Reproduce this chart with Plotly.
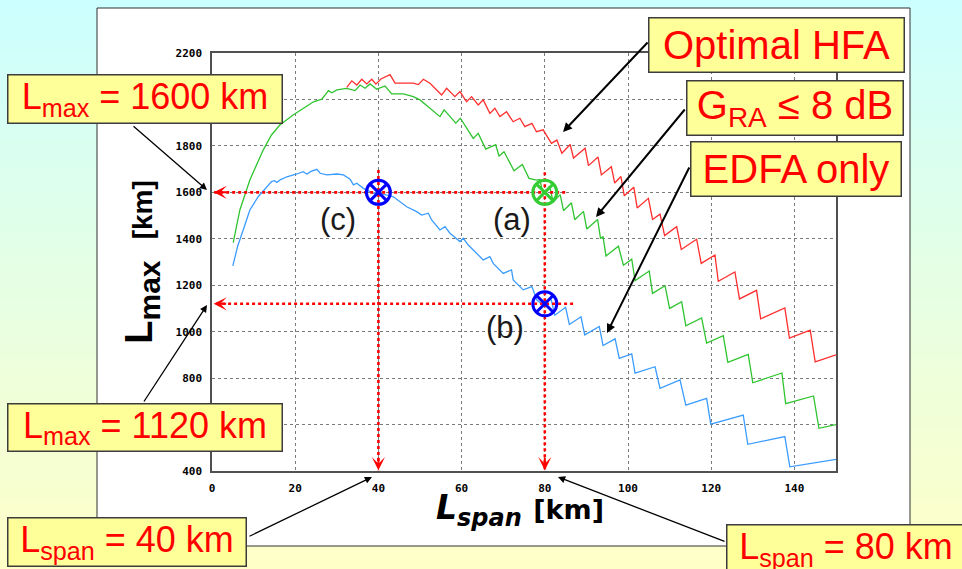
import plotly.graph_objects as go

# ---------------- data ----------------
blue_x = [5, 6.2, 7.5, 9.1, 11.1, 13.1, 14.3, 15.0, 15.6, 16.5, 18.0, 20.4, 21.9, 22.8, 23.8, 25.2, 26.0, 27.6,
          30.0, 31.6, 33.2, 34.0, 34.8, 36.4, 38.8, 40.0, 43.6, 46.8, 49.2, 50.4, 52.0, 52.8, 54.8, 56.0, 57.2,
          59.6, 60.4, 61.6, 65.2, 66.8, 67.6, 70.0, 72.0, 72.4, 74.8, 76.9, 78.1, 79.6, 81.5, 82.4, 85.0, 85.9,
          88.7, 89.6, 93.1, 94.0, 96.9, 97.9, 100.9, 101.7, 106.5, 107.7, 112.5, 113.9, 118.9, 119.9, 127.7,
          128.8, 137.7, 138.9, 150.0]
blue_y = [1283, 1370, 1438, 1524, 1581, 1624, 1646, 1650, 1643, 1655, 1667, 1679, 1689, 1679, 1690, 1699, 1682, 1675,
          1679, 1675, 1656, 1632, 1639, 1617, 1596, 1598, 1581, 1538, 1517, 1502, 1510, 1481, 1438, 1452, 1424,
          1388, 1402, 1373, 1309, 1323, 1294, 1251, 1266, 1223, 1180, 1194, 1136, 1114, 1141, 1071, 1105, 1031,
          1064, 986, 1022, 940, 969, 885, 904, 821, 849, 756, 792, 684, 713, 602, 641,
          515, 548, 418, 450]

green_x = [5.1, 6.7, 9.1, 12.3, 14.3, 16.3, 19.5, 21.9, 24.4, 26.4, 28.0, 28.8, 30.0, 32.4, 34.4, 35.6, 36.8, 38.0,
           39.6, 41.6, 43.2, 46.0, 48.4, 50.0, 52.4, 54.8, 55.8, 58.6, 59.7, 62.8, 64.0, 65.8, 68.2, 69.0, 70.2,
           72.6, 74.6, 76.2, 78.0, 78.8, 79.6, 81.2, 82.0, 83.7, 84.5, 86.4, 87.2, 89.3, 90.1, 92.7, 93.4, 94.0,
           94.7, 97.7, 98.9, 100.9, 101.7, 105.1, 105.9, 108.9, 110.0, 112.9, 113.9, 117.7, 118.9, 122.9, 124.0,
           128.9, 130.0, 137.0, 137.9, 144.6, 145.9, 150.0]
green_y = [1383, 1524, 1653, 1782, 1847, 1890, 1933, 1962, 1990, 2001, 2038, 2029, 2041, 2048, 2038, 2062, 2048, 2067,
           2044, 2058, 2024, 2024, 2012, 1998, 1962, 1926, 1955, 1898, 1919, 1832, 1854, 1786, 1805, 1756, 1775,
           1693, 1720, 1660, 1653, 1655, 1592, 1624, 1558, 1590, 1521, 1555, 1482, 1518, 1442, 1483, 1401, 1410,
           1326, 1368, 1286, 1312, 1220, 1261, 1165, 1198, 1100, 1129, 1025, 1059, 951, 983, 868,
           902, 780, 822, 690, 723, 584, 600]

red_x = [32.4, 33.6, 34.8, 36.0, 37.2, 38.4, 39.4, 40.6, 42.8, 44.0, 48.4, 49.6, 50.8, 52.4, 55.2, 56.4, 58.4, 59.6,
         61.2, 62.4, 64.0, 65.2, 66.8, 68.0, 69.2, 70.8, 72.4, 74.0, 75.2, 76.9, 78.0, 79.6, 81.6, 82.9, 84.1, 86.1,
         86.9, 89.7, 90.5, 92.8, 93.6, 96.0, 96.8, 98.3, 99.1, 101.4, 102.2, 104.9, 105.9, 107.7, 108.8, 111.7,
         112.8, 116.5, 117.6, 120.9, 121.7, 125.7, 126.8, 130.9, 131.9, 137.7, 138.8, 143.8, 145.0, 150.0]
red_y = [2052, 2080, 2062, 2087, 2067, 2087, 2066, 2088, 2107, 2070, 2070, 2064, 2087, 2070, 2019, 2048, 2012, 2034,
         1990, 2012, 1976, 1998, 1940, 1962, 1926, 1947, 1904, 1919, 1883, 1897, 1861, 1869, 1811, 1825, 1768, 1806,
         1748, 1790, 1715, 1752, 1675, 1710, 1640, 1668, 1585, 1622, 1533, 1574, 1483, 1506, 1414, 1452,
         1354, 1398, 1294, 1330, 1217, 1257, 1141, 1178, 1055, 1102, 972, 1007, 870, 900]

point_x = [40, 80, 80]
point_y = [1600, 1600, 1120]
point_labels = ["(c)", "(a)", "(b)"]
label_x = [30.3, 72.1, 70.4]
label_y = [1485, 1481, 1016]

guide_lmax = [1600, 1120]
guide_lmax_from = [84.9, 86.8]
guide_lspan = [40, 80]
guide_lspan_from = [1696, 1686]

x_ticks = [0, 20, 40, 60, 80, 100, 120, 140]
x_tick_text = ["0", "20", "40", "60", "80", "100", "120", "140"]
y_ticks = [400, 600, 800, 1000, 1200, 1400, 1600, 1800, 2000, 2200]
y_tick_text = ["400", "", "800", "1000", "1200", "1400", "1600", "1800", "", "2200"]  # 600/2000 hidden by call-outs

# ---------------- layout geometry ----------------
W, H = 962, 569
ML, MR, MT, MB = 212, 126, 53, 98
PW, PH = W - ML - MR, H - MT - MB


def px(x):
    return (x - ML) / PW


def py(y):
    return (H - MB - y) / PH


fig = go.Figure()

line_w = 1.3
fig.add_trace(go.Scatter(x=blue_x, y=blue_y, mode="lines", line=dict(color="#3b9cff", width=line_w),
                         name="EDFA only", hoverinfo="skip"))
fig.add_trace(go.Scatter(x=green_x, y=green_y, mode="lines", line=dict(color="#2fc42f", width=line_w),
                         name="G_RA <= 8 dB", hoverinfo="skip"))
fig.add_trace(go.Scatter(x=red_x, y=red_y, mode="lines", line=dict(color="#ff2e2e", width=line_w),
                         name="Optimal HFA", hoverinfo="skip"))

# red dotted guides
for v, x0 in zip(guide_lmax, guide_lmax_from):
    fig.add_trace(go.Scatter(x=[x0, 0.4], y=[v, v], mode="lines",
                             line=dict(color="#ff0000", width=2.6, dash="dot"), hoverinfo="skip"))
for v, y0 in zip(guide_lspan, guide_lspan_from):
    fig.add_trace(go.Scatter(x=[v, v], y=[y0, 403], mode="lines",
                             line=dict(color="#ff0000", width=2.6, dash="dot"), hoverinfo="skip"))

fig.add_trace(go.Scatter(x=point_x, y=point_y, mode="markers",
                         marker=dict(symbol="circle-x-open", size=24,
                                     color=["#0000ff", "#33cc33", "#0000ff"], line=dict(width=3)),
                         hoverinfo="skip"))

shapes = []
nb = 57
for i in range(nb):
    y0 = i * H / nb
    y1 = (i + 1) * H / nb
    t = (i + 0.5) / nb
    r = int(round(204 + (255 - 204) * t))
    b = int(round(255 + (200 - 255) * t))
    shapes.append(dict(type="rect", xref="paper", yref="paper", x0=px(-2), x1=px(W + 2),
                       y0=py(y1 + 0.6), y1=py(y0 - 0.6), fillcolor=f"rgb({r},255,{b})",
                       line=dict(width=0), layer="below"))
shapes.append(dict(type="rect", xref="paper", yref="paper", x0=px(97), x1=px(910), y0=py(546), y1=py(8),
                   fillcolor="white", line=dict(color="#303030", width=1), layer="below"))

ann = []
# red arrow heads
for v in guide_lmax:
    ann.append(dict(x=0.4, y=v, xref="x", yref="y", ax=14, ay=0, text="", showarrow=True,
                    arrowhead=3, arrowsize=1.1, arrowwidth=2, arrowcolor="#ff0000"))
for v in guide_lspan:
    ann.append(dict(x=v, y=403, xref="x", yref="y", ax=0, ay=-14, text="", showarrow=True,
                    arrowhead=3, arrowsize=1.1, arrowwidth=2, arrowcolor="#ff0000"))

# point labels
for t, lx, ly in zip(point_labels, label_x, label_y):
    ann.append(dict(x=lx, y=ly, xref="x", yref="y", text=t, showarrow=False,
                    font=dict(family="Liberation Sans", size=31, color="#1a1a1a")))

# black pointer arrows (tip px, tail px)
arrows = [((563, 132), (649, 41), 2.0), ((596, 217), (686, 108), 2.0), ((607, 333), (690, 166), 2.0),
          ((207, 190), (132, 125), 1.3), ((207, 305), (143, 403), 1.3), ((372, 477), (248, 537), 1.3),
          ((558, 477), (726, 542), 1.3)]
for (tx, ty), (sx, sy), w in arrows:
    ann.append(dict(x=px(tx), y=py(ty), xref="paper", yref="paper", ax=sx - tx, ay=sy - ty, text="",
                    showarrow=True, arrowhead=2, arrowsize=1.1 if w < 1.5 else 0.9, arrowwidth=w,
                    arrowcolor="#000000"))

# x-axis title (placed as text so it sits exactly where the reference has it)
ann.append(dict(x=px(520), y=py(510), xref="paper", yref="paper", xanchor="center", yanchor="middle",
                showarrow=False,
                text='<b><i>L<sub><span style="font-size:24px">span</span></sub></i>'
                     '\u00a0<span style="font-size:27px">[km]</span></b>',
                font=dict(family="DejaVu Sans", size=33, color="#000000")))

# yellow call-out boxes: (text, cx, cy, w, h, size)
boxes = [("Optimal HFA", 776.5, 45, 257, 56, 40),
         ("G<sub>RA</sub> \u2264 8 dB", 795, 108, 218, 56, 40),
         ("EDFA only", 796, 169, 212, 56, 40),
         ("L<sub>max</sub> = 1600 km", 145, 99, 276, 50, 36),
         ("L<sub>max</sub> = 1120 km", 145, 427.5, 276, 49, 36),
         ("L<sub>span</sub> = 40 km", 127, 542, 240, 50, 36),
         ("L<sub>span</sub> = 80 km", 846, 549, 240, 50, 36)]
for t, cx, cy, w, h, s in boxes:
    ann.append(dict(x=px(cx), y=py(cy), xref="paper", yref="paper", xanchor="center", yanchor="middle",
                    text=t, showarrow=False, bgcolor="#ffff99", bordercolor="#3c3c3c", borderwidth=1.5,
                    borderpad=0, width=w - 3, height=h - 3,
                    font=dict(family="Liberation Sans", size=s, color="#ff0000")))

tickfont = dict(family="DejaVu Sans Mono", size=11, color="#000000", weight="bold")
axis_common = dict(showgrid=True, gridcolor="#7a7a7a", griddash="dot", gridwidth=1, showline=True,
                   linecolor="#505050", linewidth=1.5, mirror=True, ticks="", zeroline=False,
                   tickfont=tickfont, ticklabelstandoff=6)

fig.update_layout(
    width=W, height=H, margin=dict(l=ML, r=MR, t=MT, b=MB, autoexpand=False),
    paper_bgcolor="#ccffff", plot_bgcolor="white", showlegend=False,
    shapes=shapes, annotations=ann,
    xaxis=dict(range=[0, 150], tickvals=x_ticks, ticktext=x_tick_text, **axis_common),
    yaxis=dict(range=[400, 2200], tickvals=y_ticks, ticktext=y_tick_text, **axis_common,
               title=dict(text='<b>L<sub><span style="font-size:30px">max</span></sub>'
                               '\u00a0\u00a0<span style="font-size:28px">[km]</span></b>',
                          font=dict(family="Liberation Sans", size=38, color="#000000"), standoff=11)),
)

fig.write_html("out.html", config={"displayModeBar": False},
               post_script="document.body.style.margin='0px';document.body.style.overflow='hidden';")
